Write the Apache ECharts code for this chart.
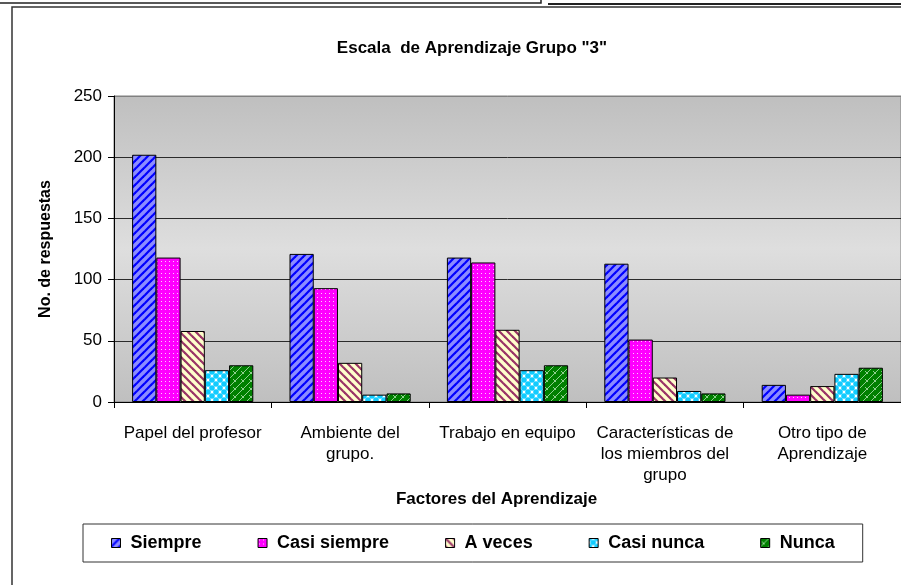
<!DOCTYPE html>
<html>
<head>
<meta charset="utf-8">
<script src="https://cdn.jsdelivr.net/npm/echarts@6/dist/echarts.min.js"></script>
<style>
  html, body { margin: 0; padding: 0; background: #fff; }
  #chart { width: 901px; height: 585px; }
</style>
</head>
<body>
<div id="chart"></div>
<script>
// datos
const categorias = [
  'Papel del profesor',
  'Ambiente del\ngrupo.',
  'Trabajo en equipo',
  'Características de\nlos miembros del\ngrupo',
  'Otro tipo de\nAprendizaje'
]
const siempre = [202, 121, 118, 113, 14]
const casiSiempre = [118, 93, 114, 51, 6]
const aVeces = [58, 32, 59, 20, 13]
const casiNunca = [26, 6, 26, 9, 23]
const nunca = [30, 7, 30, 7, 28]
const yTicks = { min: 0, max: 250, interval: 50 }

const FONT = '"Liberation Sans", Arial, sans-serif'

// tramas tipo Excel
const makePattern = (size, bg, draw) => {
  const c = document.createElement('canvas')
  c.width = size
  c.height = size
  const ctx = c.getContext('2d')
  ctx.fillStyle = bg
  ctx.fillRect(0, 0, size, size)
  draw(ctx, size)
  return { image: c, repeat: 'repeat' }
}

const diag = (color, width, up) => (ctx, s) => {
  ctx.strokeStyle = color
  ctx.lineWidth = width
  for (let k = -1; k <= 1; k++) {
    ctx.beginPath()
    if (up) {
      ctx.moveTo(k * s - 1, s + 1)
      ctx.lineTo(k * s + s + 1, -1)
    } else {
      ctx.moveTo(k * s - 1, -1)
      ctx.lineTo(k * s + s + 1, s + 1)
    }
    ctx.stroke()
  }
}

const patSiempre = makePattern(8, '#8c8cff', diag('#0000ff', 2.2, true))
const patCasiSiempre = makePattern(4, '#ff00ff', (ctx) => {
  ctx.fillStyle = '#ffc8ff'
  ctx.fillRect(1, 1, 1, 1)
})
const patAVeces = makePattern(8, '#ffffcc', diag('#993366', 2.2, false))
const patCasiNunca = makePattern(8, '#ffffff', (ctx, s) => {
  ctx.fillStyle = '#11ccff'
  const pts = [[4, 4], [0, 0], [8, 0], [0, 8], [8, 8]]
  pts.forEach(p => {
    ctx.beginPath()
    ctx.arc(p[0], p[1], 2.8, 0, Math.PI * 2)
    ctx.fill()
  })
})
const patNunca = makePattern(8, '#008000', (ctx, s) => {
  ctx.strokeStyle = '#8fd08f'
  ctx.lineWidth = 1
  ctx.beginPath()
  ctx.moveTo(0, 8); ctx.lineTo(8, 0)
  ctx.moveTo(1, 3); ctx.lineTo(4, 6)
  ctx.stroke()
})

const chart = echarts.init(document.getElementById('chart'), null, { renderer: 'canvas' })

const mkSerie = (name, data, pat) => ({
  name,
  type: 'bar',
  data,
  barGap: '0%',
  barCategoryGap: '23%',
  itemStyle: { color: pat, borderColor: '#000', borderWidth: 1 },
  emphasis: { disabled: true }
})

const option = {
  animation: false,
  backgroundColor: '#fff',
  title: {
    text: 'Escala  de Aprendizaje Grupo "3"',
    left: 467,
    textAlign: 'center',
    top: 35,
    textStyle: { fontFamily: FONT, fontSize: 17, fontWeight: 'bold', color: '#000' }
  },
  graphic: [
    { type: 'rect', z: -10, shape: { x: 12, y: 7, width: 1000, height: 1000 }, style: { fill: null, stroke: '#333', lineWidth: 1.5 } },
    { type: 'polyline', shape: { points: [[0, 3], [541, 3], [541, 0]] }, style: { fill: null, stroke: '#222', lineWidth: 1.5 } },
    { type: 'line', shape: { x1: 548, y1: 4, x2: 901, y2: 4 }, style: { stroke: '#222', lineWidth: 2 } }
  ],
  legend: {
    data: ['Siempre', 'Casi siempre', 'A veces', 'Casi nunca', 'Nunca'],
    left: 83,
    top: 524,
    orient: 'horizontal',
    padding: [10, 28, 10, 28],
    itemGap: 56,
    itemWidth: 9,
    itemHeight: 9,
    icon: 'rect',
    borderColor: '#333',
    borderWidth: 1,
    backgroundColor: '#fff',
    itemStyle: { borderColor: '#000', borderWidth: 1 },
    textStyle: { fontFamily: FONT, fontSize: 18, fontWeight: 'bold', color: '#000', padding: [0, 0, 0, 5] }
  },
  grid: {
    left: 114,
    right: -1,
    top: 96,
    bottom: 183,
    show: true,
    borderColor: '#808080',
    borderWidth: 1,
    backgroundColor: new echarts.graphic.LinearGradient(0, 0, 0, 1, [
      { offset: 0, color: '#bfbfbf' },
      { offset: 0.5, color: '#dedede' },
      { offset: 1, color: '#bfbfbf' }
    ])
  },
  xAxis: {
    type: 'category',
    data: categorias,
    name: 'Factores del Aprendizaje',
    nameLocation: 'middle',
    nameGap: 85,
    nameTextStyle: { fontFamily: FONT, fontSize: 17, fontWeight: 'bold', color: '#000', padding: [0, 22, 0, 0] },
    axisLine: { lineStyle: { color: '#000', width: 1 } },
    axisTick: { show: true, length: 6, lineStyle: { color: '#000' } },
    axisLabel: { fontFamily: FONT, fontSize: 17, color: '#000', margin: 21, lineHeight: 21, interval: 0 },
    splitLine: { show: false }
  },
  yAxis: {
    type: 'value',
    min: yTicks.min,
    max: yTicks.max,
    interval: yTicks.interval,
    name: 'No. de respuestas',
    nameLocation: 'middle',
    nameGap: 60,
    nameTextStyle: { fontFamily: FONT, fontSize: 16, fontWeight: 'bold', color: '#000' },
    axisLine: { show: true, lineStyle: { color: '#000', width: 1 } },
    axisTick: { show: true, length: 6, lineStyle: { color: '#000' } },
    axisLabel: { fontFamily: FONT, fontSize: 17, color: '#000', margin: 12 },
    splitLine: { show: true, lineStyle: { color: ['#2b2b2b', '#2b2b2b', '#2b2b2b', '#2b2b2b', '#2b2b2b', '#808080'], width: 1 } }
  },
  series: [
    mkSerie('Siempre', siempre, patSiempre),
    mkSerie('Casi siempre', casiSiempre, patCasiSiempre),
    mkSerie('A veces', aVeces, patAVeces),
    mkSerie('Casi nunca', casiNunca, patCasiNunca),
    mkSerie('Nunca', nunca, patNunca)
  ]
}

chart.setOption(option)
</script>
</body>
</html>
